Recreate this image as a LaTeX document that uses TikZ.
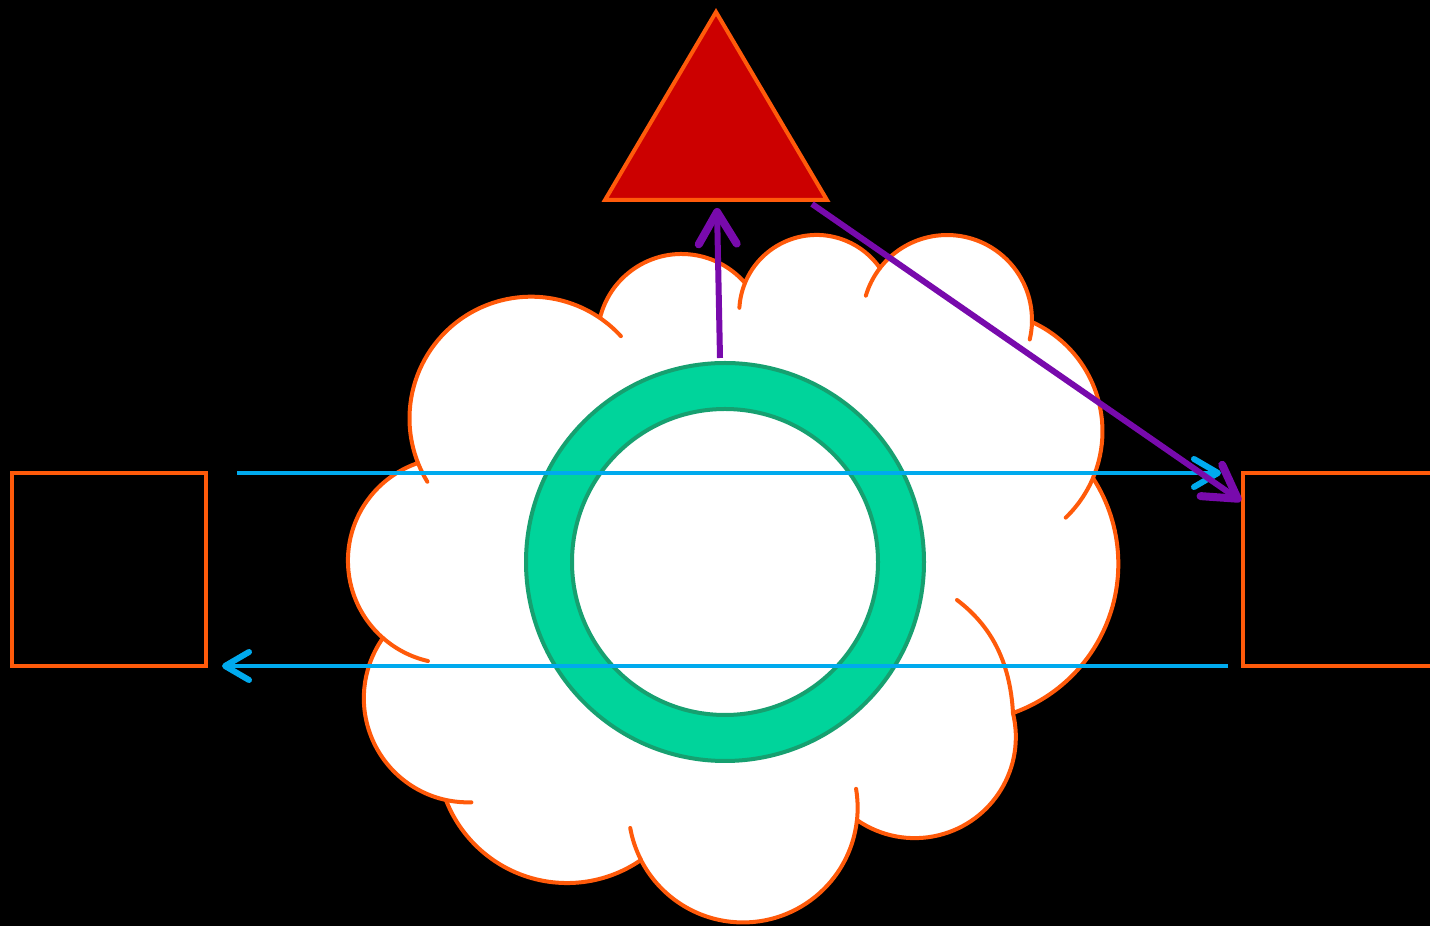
\documentclass[tikz,border=0pt]{standalone}
\usetikzlibrary{arrows.meta}
\definecolor{orng}{RGB}{255,90,10}
\definecolor{trired}{RGB}{204,0,0}
\definecolor{ringgreen}{RGB}{0,212,155}
\definecolor{ringedge}{RGB}{22,160,112}
\definecolor{skyblue}{RGB}{0,170,238}
\definecolor{purp}{RGB}{120,10,172}

\newcommand\lbget[2]{\csname lb#1#2\endcsname}
% lobe through A, B, C (pixel coords, y downwards)
\newcommand\mklobe[7]{%
 \pgfmathsetmacro\lAx{#2/100}%
 \pgfmathsetmacro\lAy{(926-#3)/100}%
 \pgfmathsetmacro\lBx{#4/100}%
 \pgfmathsetmacro\lBy{(926-#5)/100}%
 \pgfmathsetmacro\lCx{#6/100}%
 \pgfmathsetmacro\lCy{(926-#7)/100}%
 \pgfmathsetmacro\lD{2*(\lAx*(\lBy-\lCy)+\lBx*(\lCy-\lAy)+\lCx*(\lAy-\lBy))}%
 \pgfmathsetmacro\lSA{\lAx*\lAx+\lAy*\lAy}%
 \pgfmathsetmacro\lSB{\lBx*\lBx+\lBy*\lBy}%
 \pgfmathsetmacro\lSC{\lCx*\lCx+\lCy*\lCy}%
 \pgfmathsetmacro\lUx{(\lSA*(\lBy-\lCy)+\lSB*(\lCy-\lAy)+\lSC*(\lAy-\lBy))/\lD}%
 \pgfmathsetmacro\lUy{(\lSA*(\lCx-\lBx)+\lSB*(\lAx-\lCx)+\lSC*(\lBx-\lAx))/\lD}%
 \pgfmathsetmacro\lR{veclen(\lAx-\lUx,\lAy-\lUy)}%
 \pgfmathsetmacro\lS{atan2(\lAy-\lUy,\lAx-\lUx)}%
 \pgfmathsetmacro\lE{atan2(\lCy-\lUy,\lCx-\lUx)}%
 \pgfmathsetmacro\lW{Mod(\lS-\lE,360)}%
 \pgfmathsetmacro\lUxs{\lUx*100}%
 \pgfmathsetmacro\lUys{\lUy*100}%
 \pgfmathsetmacro\lRs{\lR*100}%
 \expandafter\xdef\csname lb#1ux\endcsname{\lUxs}%
 \expandafter\xdef\csname lb#1uy\endcsname{\lUys}%
 \expandafter\xdef\csname lb#1r\endcsname{\lRs}%
 \expandafter\xdef\csname lb#1s\endcsname{\lS}%
 \expandafter\xdef\csname lb#1e\endcsname{\lE}%
 \expandafter\xdef\csname lb#1w\endcsname{\lW}%
}
\newcommand\lbarc[1]{arc[start angle=\lbget{#1}{s}, delta angle=-\lbget{#1}{w}, radius=\lbget{#1}{r}]}
\newcommand\cloudtail[4]{%
 \pgfmathsetmacro\tUx{\lbget{#1}{ux}}%
 \pgfmathsetmacro\tUy{\lbget{#1}{uy}}%
 \pgfmathsetmacro\tR{\lbget{#1}{r}}%
 \pgfmathsetmacro\tF{\lbget{#1}{#2}}%
 \pgfmathsetmacro\tPhi{atan2(926-#4-\tUy,#3-\tUx)}%
 \pgfmathsetmacro\tD{Mod(\tPhi-\tF+180,360)-180}%
 \draw[cloudline] ({\tUx+\tR*cos(\tF)},{\tUy+\tR*sin(\tF)}) arc[start angle=\tF, delta angle=\tD, radius=\tR];%
}

\begin{document}
\begin{tikzpicture}[x=1pt,y=1pt,
  cloudshape/.style={fill=white, draw=orng, line width=4pt, line join=round},
  cloudline/.style={draw=orng, line width=4pt, line cap=round},
  boxstyle/.style={draw=orng, line width=4pt, inner sep=0pt, outer sep=0pt, minimum width=194pt, minimum height=193pt},
  bluearrow/.style={draw=skyblue, line width=4pt, -{Straight Barb[length=24pt,width=28pt,line width=6pt,round]}},
  purparrow/.style={draw=purp, line width=6pt, -{Straight Barb[length=32pt,width=38pt,line width=8pt,round]}}]
\fill[black] (0,0) rectangle (1430,926);
\clip (0,0) rectangle (1430,926);

% cloud lobes
\mklobe{1}{418}{463}{540}{297}{600}{318}
\mklobe{2}{600}{318}{680}{254}{745}{283}
\mklobe{3}{745}{283}{820}{235}{880}{268}
\mklobe{4}{880}{268}{947}{235}{1032}{322}
\mklobe{5}{1032}{322}{1102}{420}{1093}{478}
\mklobe{6}{1093}{478}{1118}{575}{1013}{713}
\mklobe{7}{1013}{713}{910}{838}{857}{820}
\mklobe{8}{857}{820}{725}{921}{641}{860}
\mklobe{9}{641}{860}{564}{883}{446}{800}
\mklobe{10}{446}{800}{364}{703}{383}{638}
\mklobe{11}{383}{638}{348}{560}{418}{463}

\path[cloudshape] (418,926-463) \lbarc{1} \lbarc{2} \lbarc{3} \lbarc{4} \lbarc{5} \lbarc{6} \lbarc{7} \lbarc{8} \lbarc{9} \lbarc{10} \lbarc{11} -- cycle;

\cloudtail{1}{s}{422}{485}
\cloudtail{1}{e}{620}{337}
\cloudtail{3}{s}{743}{308}
\cloudtail{4}{s}{867}{296}
\cloudtail{4}{e}{1032}{340}
\cloudtail{5}{e}{1068}{520}
\coordinate (jseven) at (1013,926-713);
\coordinate (tseven) at (957,926-600);
\draw[cloudline] (jseven) .. controls (1010,926-660) and (990,926-625) .. (tseven);
\cloudtail{8}{s}{861}{788}
\cloudtail{8}{e}{630}{828}
\cloudtail{10}{s}{471}{790}
\cloudtail{11}{s}{430}{652}

% ring
\node[circle, minimum size=398pt, inner sep=0pt, outer sep=0pt] (ring) at (725,926-562) {};
\fill[ringgreen, even odd rule] (ring.center) circle[radius=199] (ring.center) circle[radius=153];
\draw[ringedge, line width=4pt] (ring.center) circle[radius=199] (ring.center) circle[radius=153];

% triangle
\coordinate (triT) at (716,926-12);
\coordinate (triL) at (605,926-200);
\coordinate (triR) at (827,926-200);
\draw[fill=trired, draw=orng, line width=4pt, line join=miter] (triT) -- (triL) -- (triR) -- cycle;

% boxes
\node[boxstyle] (lbox) at (109,926-569.5) {};
\node[boxstyle] (rbox) at (1340,926-569.5) {};

% blue arrows
\draw[bluearrow] ([xshift=31pt]lbox.north east) -- ([xshift=-22pt]rbox.north west);
\draw[bluearrow] ([xshift=-15pt]rbox.south west) -- ([xshift=16pt]lbox.south east);

% purple arrows
\coordinate (ringtop) at (720,926-358);
\coordinate (vtip) at (717,926-208);
\coordinate (dstart) at (812,926-204);
\coordinate (dtip) at (1241,926-501);
\draw[purparrow] (ringtop) -- (vtip);
\draw[purparrow] (dstart) -- (dtip);
\end{tikzpicture}
\end{document}
